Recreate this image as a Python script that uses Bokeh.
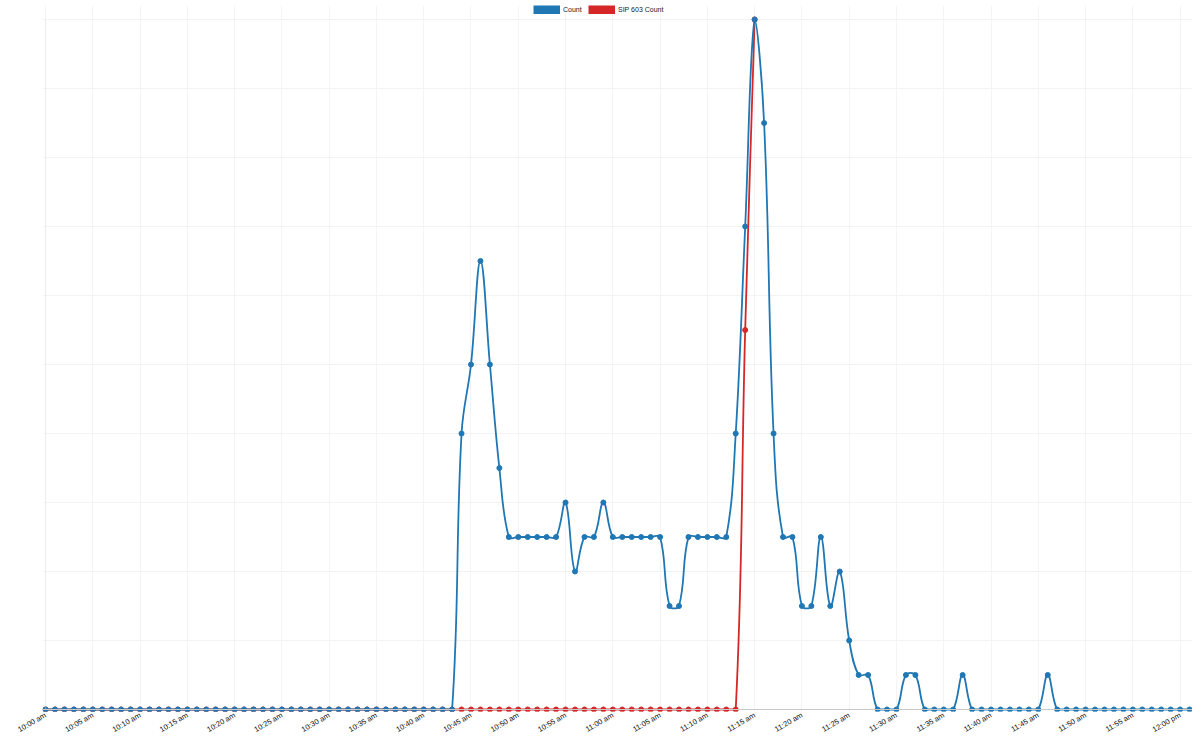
import math
from bokeh.plotting import figure
from bokeh.models import Range1d, FixedTicker, Span, Legend, LegendItem, BoxAnnotation
from bokeh.embed import file_html
from bokeh.resources import INLINE

# ---- data (one sample per minute, 10:00 am .. 12:01 pm) ----
minute_offsets = list(range(0, 122))

count = [
    0, 0, 0, 0, 0, 0, 0, 0, 0, 0,      # 10:00
    0, 0, 0, 0, 0, 0, 0, 0, 0, 0,      # 10:10
    0, 0, 0, 0, 0, 0, 0, 0, 0, 0,      # 10:20
    0, 0, 0, 0, 0, 0, 0, 0, 0, 0,      # 10:30
    0, 0, 0, 0, 8, 10, 13, 10, 7, 5,   # 10:40
    5, 5, 5, 5, 5, 6, 4, 5, 5, 6,      # 10:50
    5, 5, 5, 5, 5, 5, 3, 3, 5, 5,      # 11:00
    5, 5, 5, 8, 14, 20, 17, 8, 5, 5,   # 11:10
    3, 3, 5, 3, 4, 2, 1, 1, 0, 0,      # 11:20
    0, 1, 1, 0, 0, 0, 0, 1, 0, 0,      # 11:30
    0, 0, 0, 0, 0, 0, 1, 0, 0, 0,      # 11:40
    0, 0, 0, 0, 0, 0, 0, 0, 0, 0,      # 11:50
    0, 0,                              # 12:00
]

sip603_count = [
    0, 0, 0, 0, 0, 0, 0, 0, 0, 0,
    0, 0, 0, 0, 0, 0, 0, 0, 0, 0,
    0, 0, 0, 0, 0, 0, 0, 0, 0, 0,
    0, 0, 0, 0, 0, 0, 0, 0, 0, 0,
    0, 0, 0, 0, 0, 0, 0, 0, 0, 0,
    0, 0, 0, 0, 0, 0, 0, 0, 0, 0,
    0, 0, 0, 0, 0, 0, 0, 0, 0, 0,
    0, 0, 0, 0, 11, 20,
]

x_ticks = [0, 5, 10, 15, 20, 25, 30, 35, 40, 45, 50, 55, 60,
           65, 70, 75, 80, 85, 90, 95, 100, 105, 110, 115, 120]
x_labels = ["10:00 am", "10:05 am", "10:10 am", "10:15 am", "10:20 am",
            "10:25 am", "10:30 am", "10:35 am", "10:40 am", "10:45 am",
            "10:50 am", "10:55 am", "11:00 am", "11:05 am", "11:10 am",
            "11:15 am", "11:20 am", "11:25 am", "11:30 am", "11:35 am",
            "11:40 am", "11:45 am", "11:50 am", "11:55 am", "12:00 pm"]
y_ticks = [0, 2, 4, 6, 8, 10, 12, 14, 16, 18, 20]

BLUE = "#1f77b4"
RED = "#d62728"
FONT = "Liberation Sans"

FW, FH = 1150, 706
MB_L, MB_R, MB_T, MB_B = 42, 0, 5, 25
X0, X1 = -0.32, 121.31
Y0, Y1 = -0.058, 20.406
XMIN, XMAX, YMIN, YMAX = 0, 121, 0, 20

p = figure(frame_width=FW, frame_height=FH, output_backend="svg",
           toolbar_location=None,
           x_range=Range1d(X0, X1), y_range=Range1d(Y0, Y1),
           min_border_left=MB_L, min_border_right=MB_R,
           min_border_top=MB_T, min_border_bottom=MB_B)
p.outline_line_color = None
p.background_fill_color = "white"

# pixel scales (used only for the spline tension weights)
sx = FW / (X1 - X0)
sy = FH / (Y1 - Y0)


def spline_segments(xs, ys, t=0.4):
    n = len(xs)
    cps = []
    for i in range(n):
        xp, yp = (xs[i - 1], ys[i - 1]) if i > 0 else (xs[i], ys[i])
        xn, yn = (xs[i + 1], ys[i + 1]) if i < n - 1 else (xs[i], ys[i])
        xc, yc = xs[i], ys[i]
        d01 = math.hypot((xc - xp) * sx, (yc - yp) * sy)
        d12 = math.hypot((xn - xc) * sx, (yn - yc) * sy)
        tot = d01 + d12
        s01 = d01 / tot if tot else 0
        s12 = d12 / tot if tot else 0
        fa, fb = t * s01, t * s12
        prev_c = (xc - fa * (xn - xp), yc - fa * (yn - yp))
        next_c = (xc + fb * (xn - xp), yc + fb * (yn - yp))
        clamp = lambda c: (min(max(c[0], XMIN), XMAX), min(max(c[1], YMIN), YMAX))
        cps.append((clamp(prev_c), clamp(next_c)))
    seg = dict(x0=[], y0=[], x1=[], y1=[], cx0=[], cy0=[], cx1=[], cy1=[])
    for i in range(n - 1):
        seg["x0"].append(xs[i]); seg["y0"].append(ys[i])
        seg["x1"].append(xs[i + 1]); seg["y1"].append(ys[i + 1])
        seg["cx0"].append(cps[i][1][0]); seg["cy0"].append(cps[i][1][1])
        seg["cx1"].append(cps[i + 1][0][0]); seg["cy1"].append(cps[i + 1][0][1])
    return seg


# grid
p.xgrid.ticker = FixedTicker(ticks=x_ticks)
p.ygrid.ticker = FixedTicker(ticks=y_ticks)
p.xgrid.grid_line_color = "#f4f4f4"
p.ygrid.grid_line_color = "#f3f3f3"

# axis lines: left from 0 to the top of the value range, bottom at zero
p.add_layout(BoxAnnotation(left=XMIN, right=XMIN, bottom=YMIN, top=YMAX,
                           fill_alpha=0, line_color="#e0e0e0", line_width=1.5))
p.add_layout(Span(location=0, dimension="width", line_color="#c8c8c8", line_width=1.2))

red_x = minute_offsets[:len(sip603_count)]

# legend swatches: hidden thick lines of each series (only drawn in the legend)
sw_red = p.line(red_x, sip603_count, line_color=RED, line_width=9,
                line_cap="butt", visible=False)
sw_blue = p.line(minute_offsets, count, line_color=BLUE, line_width=9,
                 line_cap="butt", visible=False)

# SIP 603 series (drawn first, under)
p.bezier(line_color=RED, line_width=1.8, **spline_segments(red_x, sip603_count))
p.scatter(red_x, sip603_count, size=5, color=RED)

# Count series
p.bezier(line_color=BLUE, line_width=1.8, **spline_segments(minute_offsets, count))
p.scatter(minute_offsets, count, size=5, color=BLUE)

# axes
p.yaxis.visible = False
ax = p.xaxis[0]
ax.ticker = FixedTicker(ticks=x_ticks)
ax.major_label_overrides = {t: l for t, l in zip(x_ticks, x_labels)}
ax.major_label_orientation = math.pi / 6
ax.major_label_text_font = FONT
ax.major_label_text_font_size = "7.5px"
ax.major_label_text_color = "#111111"
ax.major_label_standoff = 3
ax.major_tick_out = 0
ax.major_tick_in = 0
ax.axis_line_color = None
ax.major_tick_line_color = None
ax.minor_tick_line_color = None

legend = Legend(items=[LegendItem(label="Count", renderers=[sw_blue]),
                       LegendItem(label="SIP 603 Count", renderers=[sw_red])],
                orientation="horizontal", location=(491, FH - 9),
                glyph_width=27, glyph_height=9, label_height=9,
                label_standoff=3, spacing=5, padding=0, margin=0,
                label_text_font=FONT, label_text_font_size="7px",
                label_text_color="#222222",
                inactive_fill_alpha=0,
                border_line_color=None, background_fill_alpha=0)
p.add_layout(legend, "center")

open("out.html", "w").write(file_html(p, INLINE))
